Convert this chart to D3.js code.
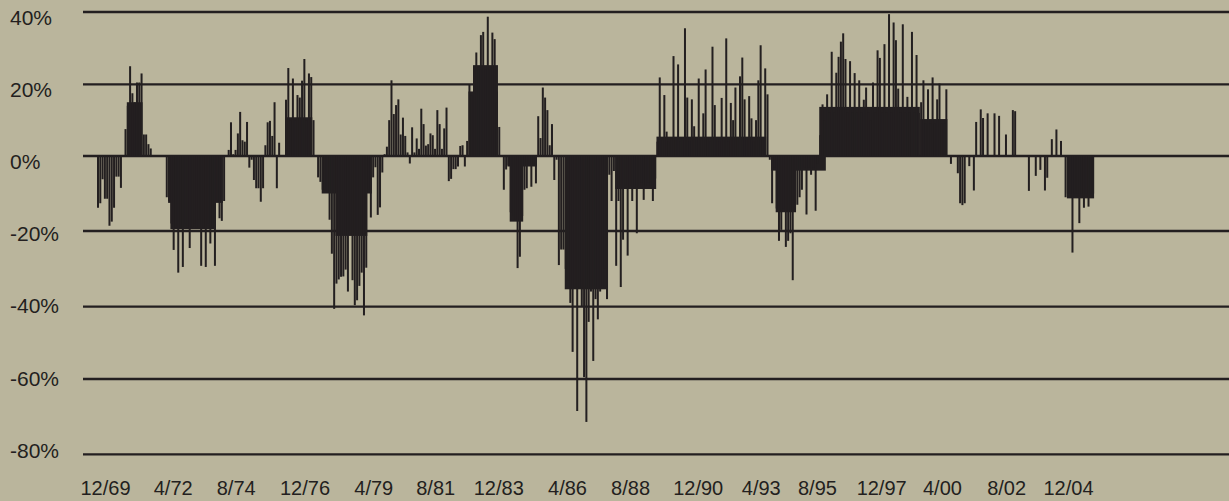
<!DOCTYPE html>
<html>
<head>
<meta charset="utf-8">
<script src="https://cdn.jsdelivr.net/npm/d3@7"></script>
<style>
  html, body { margin: 0; padding: 0; background: #bab59c; }
  svg { display: block; }
  text { font-family: "Liberation Sans", Arial, sans-serif; fill: #231f20; }
</style>
</head>
<body>
<div id="chart"></div>
<script>
// monthly returns (%), index 0 = 12/69
var ret1970s = [
    -13.8,
    -12.6, -6.2, -11.4, -11.4, -18.6, -17.5, -13.8, -5.5, -5.5, -8.5, 0, 7.5,
    14, 25, 17.5, 15, 20.5, 20.5, 23, 6, 6, 3.3, 2.1, 0,
    0, 0, 0, 0, 0, -11, -12, -18, -25, -19, -31, -19,
    -29.5, -18, -19, -24.5, -19, -18, -19, -17, -29.2, -19, -29.5, -18,
    -23.3, -19, -29.2, -12, -16.6, -17.3, -12, 0, 1.7, 9.4, 0.5, 1.7,
    6.3, 12.3, 4.4, 4, 9.5, -3.1, -1, -6.4, -8.6, -8.6, -12.2, -8.6,
    3, 9.4, 9.8, 5.6, 15, -8.6, 3.7, 0, 0, 15.7, 24.5, 10,
    21.6, 10, 17, 16.3, 21, 27, 10, 23, 22, 10, 0, -5.7,
    -6.9, -9, -9, -9.5, -17, -26, -40.6, -33.9, -32.8, -32.1, -32, -30.2,
    -36, -20, -33, -39.6, -38.3, -34.5, -31, -42.4, -29.7, -9, -16.4, -5.7
];
var ret1980s = [
    -3, -15.7, -13.7, -4.4, 0.5, 2.6, 10, 21.1, 11.7, 14.2, 15.8, 6,
    10.7, 5.6, 1, -2, 8, 1, 4.9, 2, 13.2, 8.9, 2.9, 3.3,
    6.3, 5.8, 2, 12.8, 8.9, 2, 7.7, 13.5, -6.7, -6.1, -3.5, -3.5,
    -2.8, 2.8, 3, -2.8, 4.2, 20, 17, 25, 28.8, 24, 33.6, 34.5,
    24, 38.7, 24, 34.3, 32.5, 15, 8.1, 0, -9, -3.6, -2.5, -15,
    -16, -17, -29.8, -26.8, -16, -9, -8.6, -2, -8.2, -2, -7.3, 11.1,
    5, 19.1, 16.3, 12.8, 3, 8.9, -6.4, -1, -29, -24.9, -24.9, -30,
    -33, -39, -52.5, -35, -68.5, -35, -40, -59.5, -71.4, -44.2, -36, -55,
    -38, -43.5, -36, -35, -30, -38, -5, -12, -4, -29.2, -12, -34.8,
    -22.3, -8, -26.5, -8, -12, -8, -20.6, -8, -7, -11.7, -8, -7
];
var ret1990s = [
    -8, -12, -6, 4, 21.9, 5, 17, 6.8, 4, 5, 27.8, 5,
    25.5, 4, 5, 35.5, 16.3, 4, 15.8, 8.3, 5, 21.6, 5, 11.9,
    24.1, 5, 4, 30.4, 14.2, 5, 4, 16.2, 5, 32.7, 4, 14.8,
    10, 19.1, 5, 22.2, 27.4, 15.8, 5, 16.7, 10.5, 4, 10, 21.1,
    30.8, 5, 24.4, 17.2, -1, -12.6, -3, -14, -22.6, -19.7, -14, -24.2,
    -22.6, -20.6, -33, -14, -13, -11, -9, -3, -15.6, -3, -5, -3,
    -14.6, -2, 5.8, 14.4, 10, 17.2, 12, 29, 12, 23.2, 27.6, 31.8,
    34.1, 27, 12, 26.4, 12, 23.1, 12, 21.1, 12, 15.7, 19.1, 12,
    10, 20.5, 12, 29.4, 27.3, 12, 31.1, 12, 39.4, 12, 37.1, 32.2,
    18.8, 12, 36.6, 12, 16.5, 12, 34.5, 12, 28.1, 12, 15, 21.1
];
var ret2000s = [
    9, 18.6, 9, 21.9, 9, 15.8, 20.2, 9, 9, 18.6, 0, -2.1,
    0, 0, -4.6, -12.6, -13.1, -12.6, 0, -2.7, 0, -9.2, 9.5, 0,
    13, 10.6, 0, 11.9, 0, 0, 11.9, 0, 11.2, 0, 0, 6,
    0, 0, 12.8, 12.5, 0, 0, 0, 0, 0, -9.3, 0, 0,
    -5.3, 0, -3.7, 0, -9.2, -5.8, 0, 4.7, 0, 7.4, 0, 4.2,
    0, -11, -10, -10, -25.7, -10, -10, -17.9, -10, -13.8, -10, -13.5,
    -10, -10
];

// period averages (first month, last month, value %)
var periodFirst = [13, 31, 32, 82, 98, 104, 162, 164, 179, 180, 204, 226, 244, 294, 296, 315, 359, 423];
var periodLast  = [19, 54, 51, 93, 119, 117, 174, 174, 191, 185, 222, 243, 291, 317, 304, 358, 370, 434];
var periodValue = [15, -12.5, -19.5, 10.8, -10, -21.3, 18, 25.3, -2.8, -17.5, -35.4, -8.8, 5.4, -3.9, -15, 13.7, 10.3, -11.3];

var yTicks = [40, 20, 0, -20, -40, -60, -80];
var xTickLabels = ["12/69", "4/72", "8/74", "12/76", "4/79", "8/81", "12/83", "4/86",
                   "8/88", "12/90", "4/93", "8/95", "12/97", "4/00", "8/02", "12/04"];
var xTickMonths = [3.5, 33, 60.5, 90.5, 120.5, 147.5, 175, 205,
                   232.5, 262, 289.5, 314, 342, 368.5, 396.5, 423.5];

var returns = ret1970s.concat(ret1980s, ret1990s, ret2000s);

var w = 1229, h = 501,
    ink = "#231f20",
    barW = 2;

var svg = d3.select("#chart").append("svg")
    .attr("width", w)
    .attr("height", h);

svg.append("rect")
    .attr("width", w)
    .attr("height", h)
    .attr("fill", "#bab59c");

// Scales
var x = d3.scaleLinear().domain([0, 420]).range([97, 1060]);
var y = d3.scaleLinear()
    .domain([-80, -60, -40, -20, 0, 20, 40])
    .range([454.3, 379, 306.7, 231, 156, 84.3, 12]);
var yLabel = d3.scaleLinear().domain([40, -80]).range([25, 457.6]);

// Grid lines
svg.append("g")
    .attr("class", "grid")
  .selectAll("line")
    .data(yTicks)
    .enter()
  .append("line")
    .attr("x1", 83)
    .attr("x2", w)
    .attr("y1", function(d) { return y(d); })
    .attr("y2", function(d) { return y(d); })
    .attr("stroke", ink)
    .attr("stroke-width", 2.3);

// Y labels
svg.append("g")
    .attr("class", "y-labels")
  .selectAll("text")
    .data(yTicks)
    .enter()
  .append("text")
    .attr("x", 10)
    .attr("y", function(d) { return yLabel(d); })
    .style("font-size", "21px")
    .text(function(d) { return d + "%"; });

// Period blocks
var periods = periodFirst.map(function(f, i) {
    return { first: f, last: periodLast[i], value: periodValue[i] };
});

svg.append("g")
    .attr("class", "periods")
  .selectAll("rect")
    .data(periods)
    .enter()
  .append("rect")
    .attr("x", function(d) { return x(d.first); })
    .attr("width", function(d) { return x(d.last) - x(d.first) + barW; })
    .attr("y", function(d) { return Math.min(y(0), y(d.value)); })
    .attr("height", function(d) { return Math.abs(y(d.value) - y(0)); })
    .attr("fill", ink);

// Monthly bars
svg.append("g")
    .attr("class", "months")
  .selectAll("rect")
    .data(returns.map(function(v, i) { return { m: i, v: v }; }).filter(function(d) { return d.v !== 0; }))
    .enter()
  .append("rect")
    .attr("x", function(d) { return x(d.m); })
    .attr("width", barW)
    .attr("y", function(d) { return Math.min(y(0), y(d.v)); })
    .attr("height", function(d) { return Math.abs(y(d.v) - y(0)); })
    .attr("fill", ink);

// X axis labels
var xAxis = d3.axisBottom(x)
    .tickValues(xTickMonths)
    .tickFormat(function(d, i) { return xTickLabels[i]; })
    .tickSize(0);

var gx = svg.append("g")
    .attr("class", "axis axis--x")
    .attr("transform", "translate(0,495)")
    .call(xAxis);

gx.select(".domain").remove();
gx.selectAll("text")
    .attr("y", 0)
    .attr("dy", 0)
    .attr("fill", ink)
    .style("font-size", "20px")
    .style("font-family", "'Liberation Sans', Arial, sans-serif");
</script>
</body>
</html>
